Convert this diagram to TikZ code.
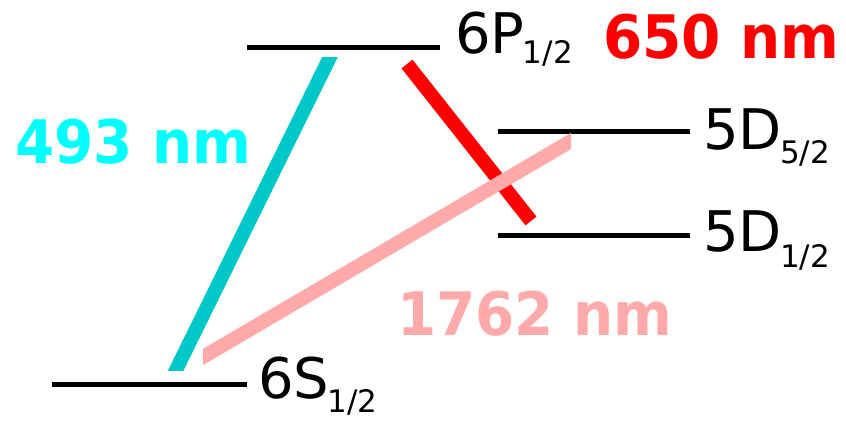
\documentclass[tikz,border=0pt]{standalone}
\usepackage{fontspec}
\setmainfont{DejaVu Sans}
\usetikzlibrary{calc}
\definecolor{tealline}{RGB}{0,200,200}
\definecolor{cyantext}{RGB}{0,255,255}
\definecolor{pinkline}{RGB}{255,170,170}
\definecolor{redline}{RGB}{255,0,0}
\newcommand{\lvl}[3]{\fontsize{56}{64}\selectfont #1\fontsize{31}{36}\selectfont\kern-1.5pt\raisebox{#3}{#2}}
\newcommand{\wavel}[1]{\scalebox{0.94}[1]{\fontsize{60}{68}\selectfont\bfseries #1}}
\begin{document}
\begin{tikzpicture}[x=1pt,y=-1pt,
  level/.style={line width=5pt},
  beam/.style={line width=14pt},
  lab/.style={anchor=base west,inner sep=0pt,outer sep=0pt},
  wl/.style={anchor=base west,inner sep=0pt,outer sep=0pt}]
\useasboundingbox (0,0) rectangle (846,421);
% level end points
\coordinate (pA) at (247,47);  \coordinate (pB) at (440,47);
\coordinate (dA) at (498,131); \coordinate (dB) at (690,131);
\coordinate (eA) at (498,235); \coordinate (eB) at (690,235);
\coordinate (sA) at (52,384);  \coordinate (sB) at (247,384);
\draw[level] (pA) -- (pB);
\draw[level] (dA) -- (dB);
\draw[level] (eA) -- (eB);
\draw[level] (sA) -- (sB);
% transitions
\coordinate (c1) at (330,57);  \coordinate (c2) at (176,370);
\coordinate (r1) at (407,64);  \coordinate (r2) at (531,221);
\coordinate (k1) at (571,141); \coordinate (k2) at (203,357);
\begin{scope}
  \clip (0,57) rectangle (846,370);
  \draw[beam,tealline] ($(c1)!-0.1!(c2)$) -- ($(c2)!-0.1!(c1)$);
\end{scope}
\draw[beam,redline] (r1) -- (r2);
\begin{scope}
  \clip (203,0) rectangle (571,421);
  \draw[beam,pinkline] ($(k1)!-0.1!(k2)$) -- ($(k2)!-0.1!(k1)$);
\end{scope}
% labels
\node[lab] (l6p) at (455,53) {\lvl{6P}{1/2}{-10pt}};
\node[lab] (l5d5) at (703,149) {\lvl{5D}{5/2}{-14pt}};
\node[lab] (l5d1) at (703,251) {\lvl{5D}{1/2}{-16pt}};
\node[lab] (l6s) at (258,398) {\lvl{6S}{1/2}{-14pt}};
\node[wl,text=redline] (w650) at (603,58) {\wavel{650 nm}};
\node[wl,text=cyantext] (w493) at (15,163) {\wavel{493 nm}};
\node[wl,text=pinkline] (w1762) at (397,335) {\wavel{1762 nm}};
\end{tikzpicture}
\end{document}
